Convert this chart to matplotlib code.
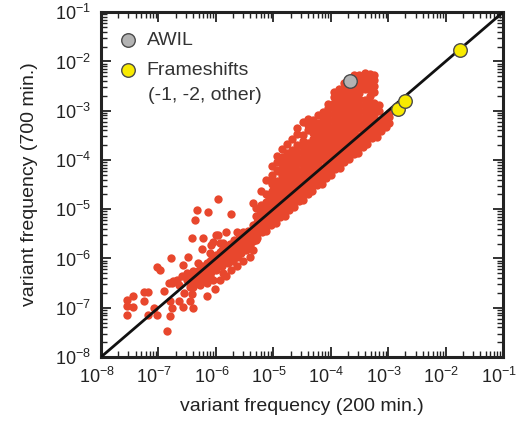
import matplotlib
matplotlib.use("Agg")
import matplotlib.pyplot as plt
import numpy as np
from matplotlib.ticker import LogLocator, FuncFormatter, NullFormatter
from matplotlib.transforms import ScaledTranslation

plt.rcParams['font.family'] = ['Liberation Sans', 'DejaVu Sans']
plt.rcParams['mathtext.fontset'] = 'custom'
plt.rcParams['mathtext.rm'] = 'Liberation Sans'
plt.rcParams['mathtext.default'] = 'regular'

# all red values are log10(frequency)
# dense band along the diagonal: one x per column, several y per column
band_cols = [-6.40, -6.32, -6.24, -6.16, -6.08, -6.00, -5.92, -5.84, -5.76, -5.68,
             -5.60, -5.52, -5.44, -5.36, -5.28, -5.20, -5.12, -5.04, -4.96, -4.88,
             -4.80, -4.72, -4.64, -4.56, -4.48, -4.40, -4.32, -4.24, -4.16, -4.08,
             -4.00, -3.92, -3.84, -3.76, -3.68, -3.60, -3.52, -3.44, -3.36, -3.28,
             -3.20, -3.12, -3.04, -2.98]
band_vals = [
    [-6.58, -6.47, -6.33], [-6.50, -6.40, -6.27], [-6.45, -6.31, -6.19],
    [-6.36, -6.25, -6.10], [-6.28, -6.16, -6.03], [-6.22, -6.09, -5.95],
    [-6.12, -6.00, -5.87], [-6.06, -5.93, -5.79], [-5.96, -5.84, -5.71],
    [-5.90, -5.77, -5.63],
    [-5.91, -5.80, -5.69, -5.58], [-5.79, -5.67, -5.56, -5.46],
    [-5.77, -5.66, -5.55, -5.44], [-5.65, -5.53, -5.42, -5.32],
    [-5.59, -5.48, -5.37, -5.26], [-5.47, -5.35, -5.24, -5.14],
    [-5.45, -5.34, -5.23, -5.12], [-5.33, -5.21, -5.10, -5.00],
    [-5.27, -5.16, -5.05, -4.94], [-5.15, -5.03, -4.92, -4.82],
    [-5.13, -5.02, -4.91, -4.80], [-5.01, -4.89, -4.78, -4.68],
    [-4.95, -4.84, -4.73, -4.62], [-4.83, -4.71, -4.60, -4.50],
    [-4.81, -4.70, -4.59, -4.48], [-4.69, -4.57, -4.46, -4.36],
    [-4.63, -4.52, -4.41, -4.30], [-4.51, -4.39, -4.28, -4.18],
    [-4.49, -4.38, -4.27, -4.16], [-4.37, -4.25, -4.14, -4.04],
    [-4.31, -4.20, -4.09, -3.98], [-4.19, -4.07, -3.96, -3.86],
    [-4.17, -4.06, -3.95, -3.84], [-4.05, -3.93, -3.82, -3.72],
    [-3.99, -3.88, -3.77, -3.66], [-3.87, -3.75, -3.64, -3.54],
    [-3.85, -3.74, -3.63, -3.52], [-3.73, -3.61, -3.50, -3.40],
    [-3.67, -3.56, -3.45, -3.34], [-3.55, -3.43, -3.32],
    [-3.53, -3.42, -3.31, -3.20], [-3.41, -3.29, -3.18],
    [-3.33, -3.22, -3.11], [-3.24, -3.13, -3.04],
]

# cloud above the diagonal (higher at 700 min.)
cloud_cols = [-5.30, -5.21, -5.12, -5.03, -4.94, -4.85, -4.76, -4.67, -4.58, -4.49,
              -4.40, -4.31, -4.22, -4.13, -4.04, -3.95, -3.86, -3.77, -3.68, -3.59,
              -3.50, -3.41, -3.32, -3.24, -3.16]
cloud_vals = [
    [-5.14, -4.98],
    [-5.07, -4.92, -4.62],
    [-4.98, -4.85, -4.70, -4.40],
    [-4.88, -4.76, -4.62, -4.48, -4.30, -4.12],
    [-4.80, -4.67, -4.55, -4.42, -4.20, -4.05, -3.92],
    [-4.71, -4.58, -4.46, -4.33, -4.20, -4.08, -3.94, -3.78],
    [-4.62, -4.50, -4.37, -4.25, -4.12, -3.98, -3.85, -3.68],
    [-4.53, -4.41, -4.28, -4.16, -4.04, -3.92, -3.80, -3.58],
    [-4.44, -4.32, -4.20, -4.07, -3.95, -3.83, -3.70, -3.48, -3.36],
    [-4.35, -4.23, -4.10, -3.98, -3.86, -3.74, -3.62, -3.50, -3.22],
    [-4.26, -4.14, -4.02, -3.90, -3.78, -3.66, -3.40, -3.28, -3.16],
    [-4.17, -4.05, -3.93, -3.81, -3.69, -3.57, -3.45, -3.33, -3.18],
    [-4.08, -3.96, -3.84, -3.72, -3.60, -3.48, -3.36, -3.24, -3.08],
    [-3.99, -3.87, -3.75, -3.63, -3.51, -3.39, -3.27, -3.15, -3.02],
    [-3.90, -3.78, -3.66, -3.54, -3.42, -3.30, -3.18, -3.06, -2.94, -2.86],
    [-3.81, -3.69, -3.57, -3.45, -3.33, -3.21, -3.09, -2.97, -2.85, -2.73, -2.62],
    [-3.72, -3.60, -3.48, -3.36, -3.24, -3.12, -3.00, -2.88, -2.76, -2.64, -2.55],
    [-3.63, -3.51, -3.39, -3.27, -3.15, -3.03, -2.91, -2.79, -2.67, -2.55, -2.43],
    [-3.54, -3.42, -3.30, -3.18, -3.06, -2.94, -2.82, -2.70, -2.58, -2.47],
    [-3.45, -3.33, -3.21, -3.09, -2.97, -2.85, -2.73, -2.61, -2.49, -2.37, -2.27],
    [-3.36, -3.24, -3.12, -3.00, -2.88, -2.76, -2.64, -2.52, -2.40, -2.28],
    [-3.27, -3.15, -3.03, -2.91, -2.79, -2.55, -2.43, -2.33, -2.23],
    [-3.18, -3.06, -2.94, -2.82, -2.70, -2.58, -2.46, -2.36, -2.25],
    [-3.08, -2.97, -2.85, -2.62, -2.50, -2.38, -2.27],
    [-3.00, -2.88],
]

# scattered points, mostly at low frequency
sparse_x = [-7.55, -7.45, -7.55, -7.45, -7.55, -7.25, -7.18, -7.25, -7.08, -7.19,
            -7.02, -6.79, -6.85, -6.91, -6.79, -6.76, -6.65, -6.57, -6.45, -6.39,
            -6.56, -6.42, -6.82, -6.74, -6.65, -6.51, -6.45, -6.32, -6.16, -6.02,
            -7.02, -6.97, -6.78, -6.57, -6.48, -6.31, -6.42, -6.22, -6.25, -6.05,
            -5.97,
            -5.96, -6.33, -6.13, -5.73, -6.36, -5.36, -5.24, -5.10, -5.04, -4.92,
            -4.90, -5.99, -5.82, -5.64, -5.87, -6.10, -4.78, -4.72, -4.61, -4.67,
            -4.84,
            -6.77, -6.68, -6.59, -6.51, -6.39, -6.30, -6.28, -6.19, -6.10, -6.10,
            -5.99, -5.90, -5.87, -5.79, -5.70, -5.64, -5.56, -5.47, -5.41, -5.30,
            -6.28, -6.39, -6.16, -6.05, -5.93, -5.82, -5.73, -5.64, -5.53, -5.41,
            -5.36, -6.25, -6.10, -5.99, -5.90, -6.05, -5.82, -5.73, -5.64, -5.53,
            -6.08, -5.93]
sparse_y = [-6.85, -6.77, -6.97, -6.98, -7.15, -6.69, -6.69, -6.87, -7.00, -7.15,
            -7.15, -7.17, -7.47, -6.67, -6.87, -7.00, -6.87, -6.98, -6.87, -7.00,
            -6.70, -6.73, -6.50, -6.46, -6.53, -6.43, -6.57, -6.50, -6.77, -6.62,
            -6.18, -6.23, -5.99, -6.13, -5.96, -6.09, -5.59, -5.59, -5.81, -5.66,
            -5.53,
            -4.79, -5.02, -5.06, -5.09, -5.22, -4.87, -5.02, -4.72, -4.42, -4.22,
            -3.95, -5.53, -5.46, -5.46, -5.69, -5.89, -4.49, -4.08, -3.95, -4.28,
            -4.69,
            -6.50, -6.43, -6.36, -6.30, -6.26, -6.23, -6.36, -6.30, -6.20, -6.36,
            -6.23, -6.16, -6.30, -6.10, -6.06, -5.96, -5.89, -5.83, -5.73, -5.63,
            -6.53, -6.46, -6.50, -6.43, -6.43, -6.36, -6.23, -6.16, -6.06, -5.96,
            -5.83, -6.16, -6.06, -5.93, -5.83, -6.13, -5.89, -5.79, -5.69, -5.63,
            -5.73, -5.69]

awil_x = [2.2e-4]
awil_y = [4.1e-3]
fs_x = [1.5e-3, 2.0e-3, 1.8e-2]
fs_y = [1.1e-3, 1.6e-3, 1.7e-2]
limits = [1e-8, 1e-1]


def flatten(cols, vals):
    xs = [c for c, vs in zip(cols, vals) for _ in vs]
    ys = [v for vs in vals for v in vs]
    return xs, ys


bx, by = flatten(band_cols, band_vals)
cx, cy = flatten(cloud_cols, cloud_vals)
red_x = 10 ** np.array(sparse_x + bx + cx)
red_y = 10 ** np.array(sparse_y + by + cy)

fig = plt.figure(figsize=(5.18, 4.21), dpi=100)
ax = fig.add_axes([0.195, 0.152, 0.776, 0.819])

ax.scatter(red_x, red_y, s=36, c='#e8472d', linewidths=0, zorder=2)
ax.plot(limits, limits, color='#111111', lw=2, zorder=3)
awil = ax.scatter(awil_x, awil_y, s=95, c='#b3b3b3', edgecolors='#4a4a4a',
                  linewidths=1, zorder=4, label='AWIL')
fs = ax.scatter(fs_x, fs_y, s=95, c='#f8ea00', edgecolors='#4a4a4a',
                linewidths=1, zorder=4, label='Frameshifts')

ax.set_xscale('log')
ax.set_yscale('log')
ax.set_xlim(limits)
ax.set_ylim(limits)

fmt = FuncFormatter(lambda v, p: f"$10^{{{int(round(np.log10(v)))}}}$")
for axis in (ax.xaxis, ax.yaxis):
    axis.set_major_locator(LogLocator(base=10, numticks=12))
    axis.set_minor_locator(LogLocator(base=10, subs=np.arange(2, 10), numticks=12))
    axis.set_major_formatter(fmt)
    axis.set_minor_formatter(NullFormatter())

ax.tick_params(which='both', direction='in', top=True, right=True,
               colors='#222222', labelsize=13)
ax.tick_params(which='major', length=7, width=1.3, pad=7)
ax.tick_params(which='minor', length=4, width=1)
for sp in ax.spines.values():
    sp.set_linewidth(2.2)
    sp.set_color('#222222')

# nudge the x tick labels a little left, as in the original
shift = ScaledTranslation(-3 / 72, 0, fig.dpi_scale_trans)
for lab in ax.get_xticklabels():
    lab.set_transform(lab.get_transform() + shift)

ax.set_xlabel('variant frequency (200 min.)', fontsize=14, color='#222222', labelpad=8)
ax.set_ylabel('variant frequency (700 min.)', fontsize=14, color='#222222', labelpad=12)

ax.legend(handles=[awil, fs], loc='upper left', frameon=False, fontsize=14,
          handlelength=0.8, handletextpad=0.55, labelspacing=0.62,
          borderaxespad=0.5, borderpad=0.5, labelcolor='#333333')
ax.text(0.117, 0.758, '(-1, -2, other)', transform=ax.transAxes, fontsize=14,
        color='#333333', va='center', ha='left')

fig.savefig('out.png', dpi=100)
